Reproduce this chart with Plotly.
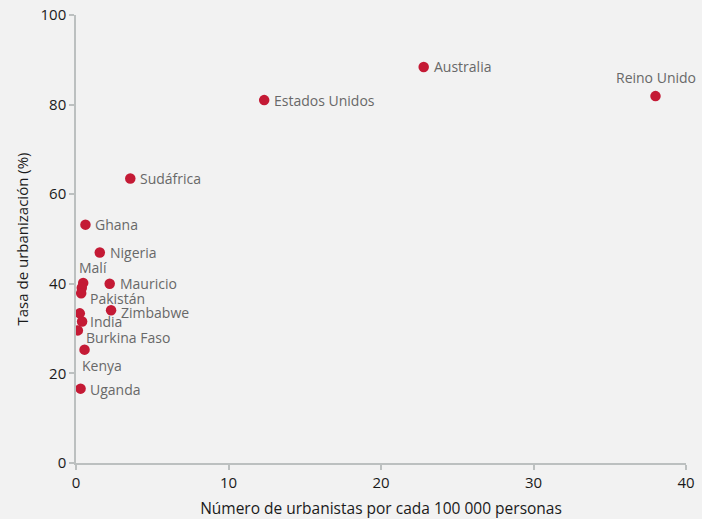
import plotly.graph_objects as go

# Urbanists per 100 000 people vs. urbanization rate, by country
countries = ["Australia", "Reino Unido", "Estados Unidos", "Sudáfrica", "Ghana",
             "Nigeria", "Mauricio", "Zimbabwe", "Malí", "", "Pakistán",
             "", "India", "Burkina Faso", "Kenya", "Uganda"]
urbanists = [22.8, 38.0, 12.34, 3.56, 0.62,
             1.56, 2.21, 2.30, 0.47, 0.38, 0.34,
             0.25, 0.40, 0.12, 0.56, 0.30]
urbanization = [88.4, 81.9, 81.0, 63.5, 53.2,
                47.0, 40.0, 34.1, 40.2, 39.1, 37.9,
                33.4, 31.6, 29.6, 25.3, 16.6]

# label placement relative to each dot, in pixels: (x offset, y offset, anchor)
label_offsets = {
    "Australia": (8, 0, "left"),
    "Reino Unido": (0, 19, "center"),
    "Estados Unidos": (8, 0, "left"),
    "Sudáfrica": (8, 0, "left"),
    "Ghana": (8, 0, "left"),
    "Nigeria": (8, 0, "left"),
    "Mauricio": (8, 0, "left"),
    "Zimbabwe": (8, -2, "left"),
    "Malí": (-6, 15, "left"),
    "Pakistán": (7, -5, "left"),
    "India": (6, 0, "left"),
    "Burkina Faso": (6, -7, "left"),
    "Kenya": (-5, -16, "left"),
    "Uganda": (7, -1, "left"),
}

axis_gray = "#bcc0c0"
label_gray = "#686868"
dot_red = "#c41a35"
text_dark = "#1a1a1a"
font_family = "Open Sans, Noto Sans, sans-serif"

fig = go.Figure()
fig.add_trace(go.Scatter(
    x=urbanists, y=urbanization, mode="markers",
    marker=dict(size=10.5, color=dot_red, line=dict(width=0)),
    cliponaxis=True, hoverinfo="skip", showlegend=False,
))

annotations = []
for name, xv, yv in zip(countries, urbanists, urbanization):
    if not name:
        continue
    dx, dy, anchor = label_offsets[name]
    annotations.append(dict(
        x=xv, y=yv, xref="x", yref="y", text=name, showarrow=False,
        xanchor=anchor, yanchor="middle", xshift=dx, yshift=dy,
        font=dict(size=14, color=label_gray, family=font_family),
    ))

axis_common = dict(
    showgrid=False, zeroline=False, showline=True, linecolor=axis_gray,
    linewidth=1.5, ticks="outside", ticklen=5, tickcolor=axis_gray,
    tickwidth=1.5, tickfont=dict(size=15, color=text_dark, family=font_family),
    automargin=False,
)

fig.update_layout(
    width=702, height=519,
    margin=dict(l=75.5, r=15.5, t=14.7, b=56.3),
    paper_bgcolor="#f2f2f2", plot_bgcolor="#f2f2f2",
    font=dict(family=font_family, color=text_dark),
    xaxis=dict(range=[0, 40], tickvals=[0, 10, 20, 30, 40],
               title=dict(text="Número de urbanistas por cada 100 000 personas",
                          font=dict(size=15.5, color=text_dark), standoff=12),
               **axis_common),
    yaxis=dict(range=[0, 100], tickvals=[0, 20, 40, 60, 80, 100],
               title=dict(text="Tasa de urbanización (%)",
                          font=dict(size=15, color=text_dark), standoff=8),
               **axis_common),
    annotations=annotations,
)

fig.write_html("out.html")
